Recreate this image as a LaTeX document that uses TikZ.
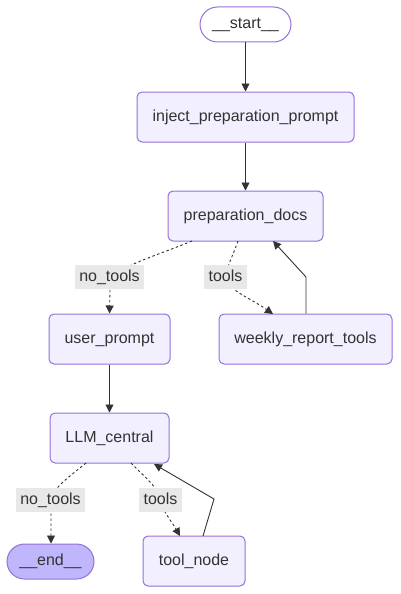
\documentclass[tikz,border=0pt]{standalone}
\usepackage{fontspec}
\setmainfont{Liberation Sans}
\usetikzlibrary{arrows.meta}
\definecolor{nodefill}{HTML}{F2F0FF}
\definecolor{nodestroke}{HTML}{9370DB}
\definecolor{endfill}{HTML}{BFB6FC}
\definecolor{ink}{HTML}{333333}
\definecolor{lblbg}{HTML}{E8E8E8}
\tikzset{
  txt/.style={text=ink, font=\fontsize{16}{19}\selectfont, text height=11.5pt, text depth=3.5pt},
  box/.style={txt, draw=nodestroke, fill=nodefill, line width=1pt, rounded corners=5pt, inner sep=0pt, minimum height=50pt},
  stadium/.style={txt, draw=nodestroke, line width=1pt, rounded corners=17.5pt, inner sep=0pt, minimum height=35pt},
  edgelbl/.style={txt, fill=lblbg, inner sep=0pt, minimum height=24pt},
  solidedge/.style={draw=ink, line width=0.9pt, -{Triangle[length=8pt,width=8pt]}},
  dashedge/.style={draw=ink, line width=0.9pt, dash pattern=on 2.5pt off 2.5pt, -{Triangle[length=8pt,width=8pt]}},
}
\begin{document}
\begin{tikzpicture}[x=1pt,y=-1pt]
\useasboundingbox (0,0) rectangle (400,594);
\node[stadium, fill=white, minimum width=91pt] (start) at (245.5,24.5) {\_\_start\_\_};
\node[box, minimum width=217pt] (inject) at (245.5,117) {inject\_preparation\_prompt};
\node[box, minimum width=155pt] (prep) at (245.5,216) {preparation\_docs};
\node[box, minimum width=121pt] (user) at (109.5,339) {user\_prompt};
\node[box, minimum width=173pt] (weekly) at (305.5,339) {weekly\_report\_tools};
\node[box, minimum width=119pt] (llm) at (109.5,438) {LLM\_central};
\node[stadium, fill=endfill, minimum width=87pt] (end) at (50.5,561.5) {\_\_end\_\_};
\node[box, minimum width=102pt] (tool) at (194,561) {tool\_node};

\coordinate (w1) at (306,277);
\coordinate (w2) at (214,499);

\draw[solidedge] (start) -- (inject);
\draw[solidedge] (inject) -- (prep);
\draw[solidedge] (user) -- (llm);

\draw[dashedge] (192,241) .. controls (135,264) and (110,268) .. (110,290) -- (user.north);
\draw[dashedge] (238,241) .. controls (232,258) and (226,268) .. (226,278) .. controls (228,290) and (250,298) .. (273,314);
\draw[solidedge] (weekly.north -| w1) -- (w1) -- (273,241);

\draw[dashedge] (86,463) .. controls (60,484) and (51,490) .. (51,505) -- (end.north -| 51,0);
\draw[dashedge] (131,463) .. controls (150,482) and (160,490) .. (160,500) .. controls (162,510) and (172,522) .. (180,536);
\draw[solidedge] (203,536) -- (w2) -- (154,464);

\node[edgelbl, minimum width=69pt] (l1) at (109.5,277) {no\_tools};
\node[edgelbl, minimum width=43pt] (l2) at (225.5,277) {tools};
\node[edgelbl, minimum width=69pt] (l3) at (50.5,500) {no\_tools};
\node[edgelbl, minimum width=43pt] (l4) at (160.5,500) {tools};
\end{tikzpicture}
\end{document}
